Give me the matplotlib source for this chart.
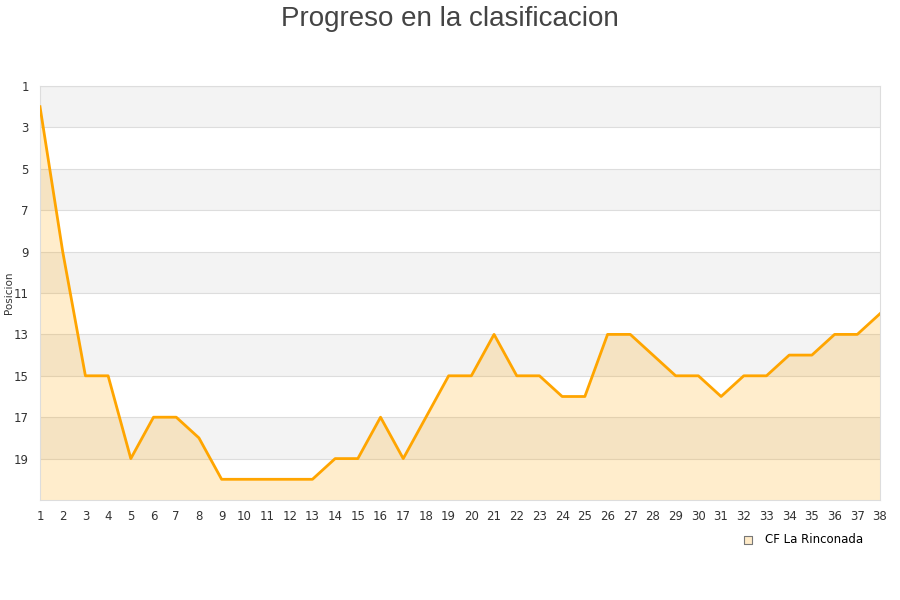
import matplotlib.pyplot as plt

jornadas = list(range(1, 39))
posiciones = [2, 9, 15, 15, 19, 17, 17, 18, 20, 20, 20, 20, 20, 19, 19, 17, 19, 17, 15, 15,
              13, 15, 15, 16, 16, 13, 13, 14, 15, 15, 16, 15, 15, 14, 14, 13, 13, 12]
equipo = 'CF La Rinconada'
y_ticks = list(range(1, 20, 2))

fig = plt.figure(figsize=(9, 6), dpi=100)
ax = fig.add_axes([40 / 900, 1 - 500 / 600, 840 / 900, 414 / 600])

# bandas alternas
for y0 in range(1, 21, 4):
    ax.axhspan(y0, y0 + 2, color='#f3f3f3', zorder=0, lw=0)
for y in y_ticks:
    ax.axhline(y, color='#dddddd', lw=0.8, zorder=1)

ax.fill_between(jornadas, posiciones, 21, color='#ffa500', alpha=0.2, lw=0, zorder=2)
ax.plot(jornadas, posiciones, color='#ffa500', lw=2, zorder=3)

ax.set_xlim(1, 38)
ax.set_ylim(21, 1)
ax.set_xticks(jornadas)
ax.set_yticks(y_ticks)
ax.tick_params(length=0, labelsize=8.5, colors='#333333')
ax.tick_params(axis='y', pad=8)
ax.tick_params(axis='x', pad=7)
for s in ax.spines.values():
    s.set_color('#dddddd')

fig.text(9 / 900, 1 - 293 / 600, 'Posicion', rotation=90, ha='center', va='center',
         fontsize=7.5, color='#333333')
fig.text(0.5, 0.99, 'Progreso en la clasificacion', ha='center', va='top',
         fontsize=20, color='#444444', family='Liberation Sans')

ax.scatter([], [], marker='s', s=40, color='#ffebc8', edgecolor='#777777', lw=0.8, label=equipo)
ax.legend(loc='upper right', bbox_to_anchor=(0.985, -0.068), frameon=False, fontsize=8.5,
          handletextpad=0.4, borderaxespad=0)

plt.savefig('out.png')
plt.close()
